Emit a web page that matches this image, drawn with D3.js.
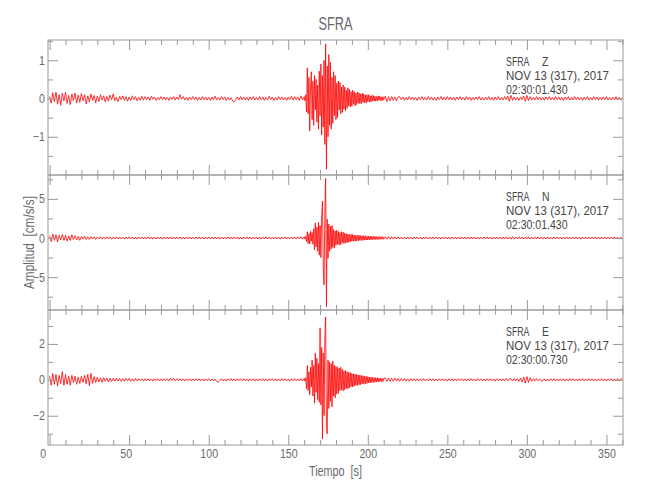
<!DOCTYPE html>
<html><head><meta charset="utf-8">
<script src="https://cdn.jsdelivr.net/npm/d3@7"></script>
<style>
body{margin:0;background:#fff}
text{font-family:"Liberation Sans",Arial,sans-serif}
</style>
</head><body><svg id="c" width="650" height="500"></svg>
<script>
// ---- data ----
// pre-event: one sample per second, t = 0..159
// event: one sample per half second, t = 160..210
// post-event: one sample per second, t = 211..360
const preStart = 0, preStep = 1;
const eventStart = 160, eventStep = 0.5;
const postStart = 211, postStep = 1;

const zPre = [
0.05,-0.12,0.15,-0.08,0.17,-0.15,0.10,-0.18,0.14,-0.06,
0.16,-0.13,0.08,-0.16,0.12,-0.05,0.14,-0.12,0.09,-0.10,
0.13,-0.06,0.10,-0.14,0.07,-0.09,0.12,-0.05,0.08,-0.11,
0.06,-0.08,0.10,-0.04,0.07,-0.09,0.05,-0.07,0.09,-0.03,
0.12,-0.06,0.04,-0.08,0.06,-0.03,0.07,-0.05,0.05,-0.07,
0.04,-0.05,0.07,-0.03,0.05,-0.06,0.03,-0.05,0.06,-0.04,
0.05,-0.03,0.04,-0.05,0.06,-0.02,0.04,-0.05,0.03,-0.04,
0.05,-0.03,0.04,-0.04,0.03,-0.05,0.04,-0.02,0.05,-0.04,
0.04,-0.03,0.10,-0.02,0.05,-0.04,0.03,-0.05,0.04,-0.03,
0.05,-0.03,0.04,-0.05,0.03,-0.04,0.05,-0.03,0.04,-0.04,
0.03,-0.05,0.04,-0.03,0.06,-0.04,0.03,-0.04,0.05,-0.03,
0.04,-0.05,0.03,-0.04,0.02,-0.06,-0.09,-0.03,0.04,-0.04,
0.05,-0.03,0.04,-0.04,0.03,-0.05,0.04,-0.03,0.05,-0.04,
0.03,-0.04,0.05,-0.03,0.04,-0.05,0.03,-0.04,0.06,-0.03,
0.04,-0.05,0.03,-0.04,0.05,-0.03,0.04,-0.04,0.03,-0.05,
0.04,-0.03,0.06,-0.04,0.05,-0.03,0.04,-0.05,0.07,-0.04];
const zEvent = [
0.05,-0.06,0.10,-0.35,0.80,-0.40,0.55,-0.85,0.30,0.70,
-0.55,0.45,-0.70,0.60,-0.30,0.50,-0.62,0.35,-0.80,0.72,
-0.45,0.90,-0.95,0.60,-0.75,1.00,-1.20,1.43,-1.85,0.85,
-1.00,1.15,-0.70,0.95,-0.80,0.55,-0.65,0.70,-0.45,0.60,
-0.55,0.40,-0.50,0.46,-0.30,0.42,-0.40,0.30,-0.36,0.35,
-0.28,0.30,-0.32,0.22,-0.26,0.28,-0.20,0.24,-0.22,0.18,
-0.20,0.22,-0.15,0.18,-0.19,0.14,-0.16,0.17,-0.12,0.15,
-0.14,0.12,-0.13,0.14,-0.10,0.12,-0.11,0.09,-0.12,0.10,
-0.08,0.10,-0.09,0.07,-0.09,0.08,-0.06,0.08,-0.07,0.06,
-0.07,0.05,-0.06,0.07,-0.05,0.06,-0.05,0.04,-0.06,0.05,
-0.04];
const zPost = [
0.06,-0.08,0.05,-0.06,0.05,-0.05,0.04,-0.06,0.04,
0.05,-0.03,0.04,-0.05,0.03,-0.04,0.05,-0.03,0.04,-0.04,
0.03,-0.05,0.04,-0.03,0.05,-0.04,0.03,-0.04,0.05,-0.03,
0.04,-0.04,0.03,-0.05,0.04,-0.03,0.05,-0.04,0.03,-0.04,
0.05,-0.03,0.04,-0.04,0.03,-0.05,0.04,-0.03,0.05,-0.04,
0.03,-0.04,0.05,-0.03,0.04,-0.05,0.03,-0.04,0.04,-0.03,
0.05,-0.04,0.03,-0.04,0.04,-0.03,0.05,-0.04,0.03,-0.05,
0.04,-0.03,0.05,-0.04,0.03,-0.04,0.05,-0.03,0.06,-0.07,
0.08,-0.05,0.04,-0.04,0.03,-0.05,0.04,-0.03,0.06,-0.07,
0.08,-0.06,0.05,-0.04,0.03,-0.04,0.05,-0.03,0.04,-0.04,
0.03,-0.05,0.04,-0.03,0.05,-0.04,0.03,-0.04,0.05,-0.03,
0.04,-0.04,0.03,-0.05,0.04,-0.03,0.05,-0.04,0.03,-0.04,
0.05,-0.03,0.04,-0.04,0.03,-0.05,0.04,-0.03,0.05,-0.04,
0.03,-0.04,0.05,-0.03,0.04,-0.05,0.03,-0.04,0.04,-0.03,
0.05,-0.04,0.03,-0.04,0.04,-0.03,0.05,-0.04,0.03,-0.04,
0.02];

const nPre = [
0.30,-0.45,0.50,-0.30,0.42,-0.52,0.35,-0.25,0.45,-0.30,
0.35,-0.40,0.25,-0.32,0.40,-0.20,0.30,-0.25,0.22,-0.30,
0.20,-0.15,0.25,-0.20,0.15,-0.20,0.18,-0.12,0.15,-0.18,
0.14,-0.12,0.16,-0.15,0.12,-0.14,0.15,-0.12,0.13,-0.16,
0.12,-0.14,0.15,-0.12,0.14,-0.13,0.12,-0.15,0.13,-0.12,
0.15,-0.12,0.13,-0.14,0.12,-0.15,0.14,-0.12,0.13,-0.14,
0.12,-0.13,0.15,-0.12,0.14,-0.14,0.12,-0.13,0.15,-0.12,
0.13,-0.15,0.12,-0.13,0.14,-0.12,0.15,-0.14,0.12,-0.13,
0.14,-0.12,0.13,-0.15,0.12,-0.14,0.13,-0.12,0.15,-0.13,
0.12,-0.14,0.14,-0.12,0.15,-0.13,0.12,-0.14,0.13,-0.12,
0.15,-0.13,0.12,-0.14,0.13,-0.12,0.14,-0.15,0.12,-0.13,
0.13,-0.12,0.15,-0.13,0.12,-0.14,0.13,-0.12,0.14,-0.15,
0.12,-0.14,0.13,-0.12,0.15,-0.13,0.12,-0.14,0.13,-0.12,
0.14,-0.13,0.12,-0.15,0.13,-0.12,0.14,-0.13,0.12,-0.14,
0.13,-0.12,0.14,-0.13,0.12,-0.15,0.13,-0.12,0.15,-0.13,
0.12,-0.14,0.13,-0.12,0.14,-0.13,0.15,-0.12,0.18,-0.16];
const nEvent = [
0.15,-0.14,0.20,-0.45,0.80,-0.70,0.55,-0.75,0.85,-0.40,
0.70,-0.80,1.20,-1.50,1.90,-1.10,1.40,-1.70,2.00,-2.20,
1.60,-2.50,2.80,4.70,-3.60,-6.00,3.20,7.60,-8.80,2.40,
-2.60,1.80,-1.70,1.50,-1.40,1.60,-1.20,1.10,-1.30,0.90,
-0.95,1.00,-0.80,0.85,-0.90,0.70,-0.85,0.80,-0.60,0.75,
-0.70,0.60,-0.65,0.55,-0.60,0.50,-0.55,0.45,-0.50,0.48,
-0.40,0.45,-0.42,0.38,-0.40,0.35,-0.38,0.32,-0.35,0.36,
-0.30,0.32,-0.33,0.28,-0.30,0.30,-0.26,0.28,-0.27,0.24,
-0.26,0.25,-0.22,0.24,-0.23,0.20,-0.22,0.21,-0.19,0.20,
-0.20,0.18,-0.19,0.17,-0.18,0.18,-0.16,0.17,-0.16,0.15,
-0.15];
const nPost = [
0.18,-0.16,0.18,-0.15,0.16,-0.15,0.15,-0.14,0.14,
-0.13,0.12,-0.14,0.13,-0.12,0.15,-0.13,0.12,-0.14,0.13,
-0.12,0.14,-0.13,0.12,-0.15,0.13,-0.12,0.14,-0.13,0.12,
-0.14,0.13,-0.12,0.15,-0.13,0.12,-0.14,0.13,-0.12,0.14,
-0.13,0.12,-0.15,0.13,-0.12,0.14,-0.13,0.12,-0.14,0.15,
-0.12,0.13,-0.14,0.12,-0.13,0.15,-0.12,0.14,-0.13,0.12,
-0.14,0.12,-0.13,0.15,-0.12,0.14,-0.13,0.12,-0.15,0.13,
-0.12,0.14,-0.13,0.12,-0.14,0.13,-0.12,0.15,-0.13,0.14,
-0.15,0.16,-0.14,0.13,-0.12,0.14,-0.13,0.12,-0.14,0.13,
-0.12,0.15,-0.13,0.12,-0.14,0.13,-0.12,0.14,-0.13,0.12,
-0.14,0.13,-0.12,0.15,-0.13,0.12,-0.14,0.13,-0.12,0.14,
-0.13,0.12,-0.14,0.13,-0.12,0.15,-0.13,0.12,-0.14,0.13,
-0.12,0.14,-0.13,0.12,-0.15,0.13,-0.12,0.14,-0.13,0.12,
-0.14,0.13,-0.12,0.15,-0.13,0.12,-0.14,0.13,-0.12,0.14,
-0.13,0.12,-0.14,0.13,-0.12,0.15,-0.13,0.12,-0.14,0.13,
-0.10];

const ePre = [
0.20,-0.30,0.35,-0.25,0.30,-0.35,0.25,-0.20,0.46,-0.30,
0.30,-0.25,0.20,-0.30,0.25,-0.15,0.20,-0.25,0.15,-0.20,
0.20,-0.15,0.25,-0.22,0.30,-0.32,0.36,-0.20,0.18,-0.15,
0.15,-0.12,0.10,-0.14,0.12,-0.08,0.10,-0.12,0.08,-0.10,
0.09,-0.08,0.10,-0.07,0.08,-0.09,0.07,-0.08,0.09,-0.06,
0.07,-0.08,0.06,-0.07,0.08,-0.06,0.07,-0.05,0.06,-0.07,
0.06,-0.05,0.07,-0.06,0.05,-0.07,0.06,-0.05,0.07,-0.06,
0.05,-0.06,0.07,-0.05,0.06,-0.06,0.10,-0.04,0.08,-0.05,
0.06,-0.05,0.07,-0.06,0.05,-0.07,0.06,-0.05,0.07,-0.06,
0.05,-0.06,0.07,-0.05,0.06,-0.06,0.05,-0.07,0.06,-0.05,
0.07,-0.06,0.05,-0.06,0.04,-0.10,-0.12,-0.05,0.06,-0.06,
0.05,-0.07,0.06,-0.05,0.07,-0.06,0.05,-0.06,0.07,-0.05,
0.06,-0.05,0.07,-0.06,0.05,-0.07,0.06,-0.05,0.06,-0.07,
0.05,-0.06,0.06,-0.05,0.07,-0.06,0.05,-0.07,0.06,-0.05,
0.07,-0.05,0.06,-0.07,0.05,-0.06,0.07,-0.05,0.06,-0.06,
0.05,-0.07,0.06,-0.05,0.07,-0.06,0.05,-0.06,0.08,-0.07];
const eEvent = [
0.08,-0.07,0.12,-0.50,0.80,-0.60,0.45,-0.83,0.70,-0.40,
1.10,-0.90,0.80,-1.30,1.50,-0.70,1.20,-1.10,0.90,-1.25,
2.90,-1.40,1.80,-3.30,1.50,-2.00,2.20,3.50,-2.60,-3.00,
1.10,-1.60,1.00,-1.20,0.90,-1.50,1.05,-0.90,0.80,-1.00,
0.75,-0.80,0.70,-0.75,0.65,-0.60,0.70,-0.55,0.60,-0.62,
0.50,-0.55,0.52,-0.48,0.45,-0.50,0.42,-0.45,0.40,-0.38,
0.36,-0.40,0.33,-0.35,0.32,-0.30,0.30,-0.31,0.27,-0.28,
0.26,-0.27,0.24,-0.22,0.23,-0.24,0.20,-0.21,0.19,-0.20,
0.18,-0.17,0.16,-0.17,0.15,-0.14,0.14,-0.15,0.12,-0.13,
0.12,-0.11,0.11,-0.12,0.10,-0.09,0.10,-0.10,0.08,-0.09,
0.08];
const ePost = [
0.11,-0.09,0.10,-0.08,0.09,-0.08,0.10,-0.07,0.08,
-0.08,0.07,-0.06,0.08,-0.07,0.06,-0.08,0.07,-0.06,0.07,
-0.06,0.05,-0.07,0.06,-0.05,0.07,-0.06,0.05,-0.06,0.07,
-0.05,0.06,-0.07,0.05,-0.06,0.06,-0.05,0.07,-0.06,0.05,
-0.07,0.06,-0.05,0.06,-0.07,0.05,-0.06,0.07,-0.05,0.06,
-0.06,0.05,-0.07,0.06,-0.05,0.07,-0.06,0.05,-0.06,0.07,
-0.05,0.06,-0.07,0.05,-0.06,0.06,-0.05,0.07,-0.06,0.05,
-0.07,0.06,-0.05,0.06,-0.07,0.05,-0.06,0.07,-0.05,0.06,
0.06,-0.07,0.08,-0.06,0.07,-0.08,0.10,-0.12,0.15,-0.18,
0.18,-0.15,0.12,-0.08,0.07,-0.06,0.07,-0.05,0.06,-0.07,
-0.05,0.06,-0.07,0.05,-0.06,0.06,-0.05,0.07,-0.06,0.05,
-0.07,0.06,-0.05,0.06,-0.07,0.05,-0.06,0.07,-0.05,0.06,
-0.06,0.05,-0.07,0.06,-0.05,0.07,-0.06,0.05,-0.06,0.07,
-0.05,0.06,-0.07,0.05,-0.06,0.06,-0.05,0.07,-0.06,0.05,
-0.07,0.06,-0.05,0.06,-0.07,0.05,-0.06,0.07,-0.05,0.06,
0.04];

const chartTitle = "SFRA";
const stationNames = ["SFRA", "SFRA", "SFRA"];
const components = ["Z", "N", "E"];
const dateLabels = ["NOV 13 (317), 2017", "NOV 13 (317), 2017", "NOV 13 (317), 2017"];
const timeLabels = ["02:30:01.430", "02:30:01.430", "02:30:00.730"];
const yRanges = [[-2.0, 1.53], [-9.2, 8.05], [-3.63, 3.89]];
const yMajorTicks = [[-1, 0, 1], [-5, 0, 5], [-2, 0, 2]];
const yMinorTicks = [[-1.5, -0.5, 0.5, 1.5], [-7.5, -2.5, 2.5, 7.5], [-3, -1, 1, 3]];
const xRange = [-1, 360.4];
const xMajorTicks = [0, 50, 100, 150, 200, 250, 300, 350];
const xMinorTicks = [10,20,30,40,60,70,80,90,110,120,130,140,160,170,180,190,210,220,230,240,260,270,280,290,310,320,330,340,360];
const xLabel = "Tiempo  [s]";
const yLabel = "Amplitud  [cm/s/s]";

function toPoints(pre, ev, post) {
  return pre.map((v, k) => [preStart + k * preStep, v])
    .concat(ev.map((v, k) => [eventStart + k * eventStep, v]))
    .concat(post.map((v, k) => [postStart + k * postStep, v]));
}
const series = [toPoints(zPre, zEvent, zPost), toPoints(nPre, nEvent, nPost), toPoints(ePre, eEvent, ePost)];

// ---- layout ----
const svg = d3.select("#c");
const mLeft = 48, mRight = 623, mTop = 40, panelH = 135;
const frameColor = "#9a9a9a", labelColor = "#6a6a6a", noteColor = "#454545";
const x = d3.scaleLinear().domain(xRange).range([mLeft, mRight]);

function squeeze(sel, ratio) {
  sel.each(function () {
    const w = this.getComputedTextLength();
    d3.select(this).attr("textLength", w * ratio).attr("lengthAdjust", "spacingAndGlyphs");
  });
}
function fit(sel, width) {
  sel.attr("textLength", width).attr("lengthAdjust", "spacingAndGlyphs");
}
function styleAxis(g, showText) {
  g.select(".domain").remove();
  g.selectAll("line").attr("stroke", frameColor);
  if (!showText) g.selectAll("text").remove();
  else g.selectAll("text").attr("fill", labelColor).attr("font-size", 12.5).call(s => squeeze(s, 0.85));
}

series.forEach((pts, i) => {
  const y0 = mTop + i * panelH, y1 = y0 + panelH;
  const y = d3.scaleLinear().domain(yRanges[i]).range([y1, y0]);
  const g = svg.append("g");

  g.append("clipPath").attr("id", "cp" + i).append("rect")
    .attr("x", mLeft).attr("y", y0).attr("width", mRight - mLeft).attr("height", panelH);

  const line = d3.line().x(d => x(d[0])).y(d => y(d[1]));
  g.append("path").datum(pts).attr("d", line)
    .attr("fill", "none").attr("stroke", "#ff0000").attr("stroke-width", 0.8)
    .attr("stroke-linejoin", "round").attr("clip-path", `url(#cp${i})`);

  g.append("rect").attr("x", mLeft).attr("y", y0).attr("width", mRight - mLeft).attr("height", panelH)
    .attr("fill", "none").attr("stroke", frameColor).attr("stroke-width", 1);

  const minorX = xMinorTicks.filter(t => t < xRange[1]);
  g.append("g").attr("transform", `translate(0,${y0})`)
    .call(d3.axisBottom(x).tickValues(xMajorTicks).tickSize(10).tickFormat(""))
    .call(a => styleAxis(a, false));
  g.append("g").attr("transform", `translate(0,${y0})`)
    .call(d3.axisBottom(x).tickValues(minorX).tickSize(5).tickFormat(""))
    .call(a => styleAxis(a, false));
  g.append("g").attr("transform", `translate(0,${y1})`)
    .call(d3.axisTop(x).tickValues(xMajorTicks).tickSize(10).tickFormat(""))
    .call(a => styleAxis(a, false));
  g.append("g").attr("transform", `translate(0,${y1})`)
    .call(d3.axisTop(x).tickValues(minorX).tickSize(5).tickFormat(""))
    .call(a => styleAxis(a, false));

  const minor = yMinorTicks[i].filter(v => v > yRanges[i][0] && v < yRanges[i][1]);
  g.append("g").attr("transform", `translate(${mLeft},0)`)
    .call(d3.axisRight(y).tickValues(yMajorTicks[i]).tickSize(10).tickFormat(""))
    .call(a => styleAxis(a, false));
  g.append("g").attr("transform", `translate(${mLeft},0)`)
    .call(d3.axisRight(y).tickValues(minor).tickSize(5).tickFormat(""))
    .call(a => styleAxis(a, false));
  g.append("g").attr("transform", `translate(${mRight},0)`)
    .call(d3.axisLeft(y).tickValues(yMajorTicks[i]).tickSize(10).tickFormat(""))
    .call(a => styleAxis(a, false));
  g.append("g").attr("transform", `translate(${mRight},0)`)
    .call(d3.axisLeft(y).tickValues(minor).tickSize(5).tickFormat(""))
    .call(a => styleAxis(a, false));
  g.append("g").attr("transform", `translate(${mLeft},0)`)
    .call(d3.axisLeft(y).tickValues(yMajorTicks[i]).tickSize(0).tickPadding(3).tickFormat(d3.format("d")))
    .call(a => styleAxis(a, true));

  // annotation block
  const nx = 506, ny = y0 + 25.5;
  const t1 = g.append("text").attr("y", ny).attr("fill", noteColor).attr("font-size", 13);
  t1.append("tspan").attr("x", nx).text(stationNames[i]).call(s => fit(s, 23.5));
  t1.append("tspan").attr("x", nx + 36).text(components[i]).call(s => squeeze(s, 0.8));
  g.append("text").attr("x", nx).attr("y", ny + 14.3).attr("fill", noteColor).attr("font-size", 13)
    .text(dateLabels[i]).call(s => fit(s, 103));
  g.append("text").attr("x", nx).attr("y", ny + 28.6).attr("fill", noteColor).attr("font-size", 13)
    .text(timeLabels[i]).call(s => fit(s, 61.5));

  if (i === 2) {
    g.append("g").attr("transform", `translate(0,${y1})`)
      .call(d3.axisBottom(x).tickValues(xMajorTicks).tickSize(0).tickPadding(4).tickFormat(d3.format("d")))
      .call(a => styleAxis(a, true))
      .call(a => a.selectAll("text").attr("dx", d => -(3 - String(d).length) * 3.5));
  }
});

svg.append("text").attr("x", (mLeft + mRight) / 2).attr("y", 30).attr("text-anchor", "middle")
  .attr("fill", labelColor).attr("font-size", 18.5).text(chartTitle).call(s => fit(s, 34));
svg.append("text").attr("x", (mLeft + mRight) / 2).attr("y", 476).attr("text-anchor", "middle")
  .attr("fill", labelColor).attr("font-size", 14).style("white-space", "pre").text(xLabel).call(s => fit(s, 53));
svg.append("text").attr("transform", `translate(33.5,${mTop + 1.5 * panelH}) rotate(-90)`)
  .attr("text-anchor", "middle").attr("fill", labelColor).attr("font-size", 14)
  .style("white-space", "pre").text(yLabel).call(s => fit(s, 93));
</script>
</body></html>
